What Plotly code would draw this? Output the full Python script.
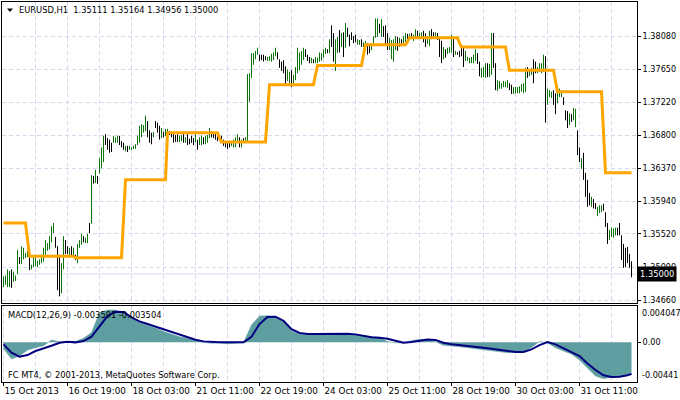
import plotly.graph_objects as go

# ---------------- data (EURUSD H1) ----------------
opens = [
1.3486,1.3488,1.3487,1.3488,1.3502,1.3492,1.3492,1.3501,1.3520,1.3515,
1.3522,1.3522,1.3523,1.3523,1.3507,1.3510,1.3512,1.3510,1.3513,1.3516,
1.3518,1.3527,1.3532,1.3535,1.3544,1.3555,1.3546,1.3534,1.3500,1.3478,
1.3508,1.3542,1.3534,1.3526,1.3533,1.3525,1.3524,1.3518,1.3535,1.3540,
1.3548,1.3542,1.3543,1.3563,1.3567,1.3625,1.3620,1.3626,1.3632,1.3640,
1.3650,1.3677,1.3670,1.3665,1.3668,1.3671,1.3671,1.3672,1.3677,1.3670,
1.3667,1.3661,1.3665,1.3661,1.3662,1.3663,1.3664,1.3668,1.3674,1.3680,
1.3685,1.3688,1.3696,1.3682,1.3674,1.3678,1.3696,1.3692,1.3686,1.3677,
1.3683,1.3680,1.3682,1.3685,1.3682,1.3680,1.3678,1.3678,1.3673,1.3674,
1.3680,1.3671,1.3678,1.3673,1.3676,1.3674,1.3672,1.3672,1.3668,1.3669,
1.3676,1.3670,1.3672,1.3678,1.3684,1.3680,1.3678,1.3677,1.3677,1.3676,
1.3672,1.3668,1.3667,1.3669,1.3666,1.3666,1.3667,1.3672,1.3676,1.3665,
1.3674,1.3671,1.3674,1.3735,1.3757,1.3774,1.3780,1.3785,1.3783,1.3782,
1.3782,1.3781,1.3777,1.3777,1.3777,1.3779,1.3784,1.3786,1.3777,1.3772,
1.3770,1.3764,1.3752,1.3748,1.3760,1.3747,1.3753,1.3764,1.3767,1.3774,
1.3780,1.3790,1.3783,1.3779,1.3774,1.3778,1.3774,1.3775,1.3777,1.3778,
1.3782,1.3786,1.3790,1.3788,1.3805,1.3800,1.3770,1.3790,1.3808,1.3796,
1.3810,1.3796,1.3818,1.3808,1.3811,1.3806,1.3805,1.3798,1.3798,1.3802,
1.3795,1.3796,1.3798,1.3795,1.3791,1.3799,1.3807,1.3810,1.3822,1.3810,
1.3819,1.3815,1.3808,1.3792,1.3782,1.3779,1.3792,1.3805,1.3795,1.3803,
1.3800,1.3802,1.3810,1.3804,1.3811,1.3803,1.3808,1.3814,1.3808,1.3808,
1.3812,1.3804,1.3799,1.3798,1.3814,1.3811,1.3808,1.3811,1.3805,1.3785,
1.3779,1.3790,1.3786,1.3788,1.3790,1.3805,1.3785,1.3787,1.3787,1.3792,
1.3786,1.3777,1.3777,1.3774,1.3775,1.3775,1.3779,1.3784,1.3773,1.3756,
1.3757,1.3756,1.3770,1.3757,1.3762,1.3805,1.3768,1.3739,1.3741,1.3741,
1.3743,1.3743,1.3743,1.3746,1.3741,1.3734,1.3735,1.3736,1.3736,1.3738,
1.3737,1.3740,1.3766,1.3757,1.3759,1.3770,1.3773,1.3762,1.3763,1.3762,
1.3765,1.3779,1.3722,1.3731,1.3729,1.3736,1.3724,1.3723,1.3731,1.3731,
1.3727,1.3710,1.3702,1.3694,1.3705,1.3701,1.3695,1.3684,1.3660,1.3638,
1.3650,1.3626,1.3604,1.3600,1.3589,1.3596,1.3590,1.3577,1.3581,1.3582,
1.3589,1.3578,1.3562,1.3545,1.3550,1.3549,1.3552,1.3558,1.3562,1.3548,
1.3525,1.3530,1.3530,1.3518,1.35111]
highs = [
1.3497,1.3498,1.3506,1.3504,1.3506,1.3503,1.3498,1.3531,1.3522,1.3536,
1.3534,1.3527,1.3530,1.3525,1.3512,1.3522,1.3522,1.3517,1.3519,1.3525,
1.3534,1.3544,1.3540,1.3549,1.3562,1.3566,1.3548,1.3536,1.3525,1.3514,
1.3549,1.3544,1.3536,1.3534,1.3536,1.3534,1.3525,1.3539,1.3544,1.3552,
1.3549,1.3547,1.3552,1.3566,1.3628,1.3627,1.3635,1.3627,1.3650,1.3664,
1.3679,1.3681,1.3676,1.3674,1.3670,1.3679,1.3677,1.3679,1.3679,1.3672,
1.3670,1.3666,1.3666,1.3666,1.3664,1.3666,1.3668,1.3679,1.3692,1.3694,
1.3693,1.3705,1.3698,1.3686,1.3683,1.3684,1.3698,1.3696,1.3692,1.3689,
1.3684,1.3688,1.3688,1.3685,1.3683,1.3683,1.3680,1.3681,1.3679,1.3680,
1.3683,1.3677,1.3683,1.3675,1.3679,1.3676,1.3685,1.3674,1.3677,1.3679,
1.3677,1.3679,1.3680,1.3689,1.3685,1.3683,1.3683,1.3681,1.3680,1.3679,
1.3674,1.3671,1.3670,1.3671,1.3671,1.3674,1.3677,1.3681,1.3677,1.3674,
1.3676,1.3677,1.3759,1.3760,1.3786,1.3786,1.3789,1.3793,1.3784,1.3784,
1.3784,1.3782,1.3781,1.3782,1.3785,1.3787,1.3793,1.3787,1.3778,1.3775,
1.3777,1.3769,1.3765,1.3762,1.3764,1.3758,1.3768,1.3793,1.3787,1.3789,
1.3793,1.3791,1.3784,1.3781,1.3780,1.3778,1.3781,1.3780,1.3787,1.3786,
1.3791,1.3793,1.3791,1.3804,1.3822,1.3812,1.3804,1.3807,1.3816,1.3812,
1.3813,1.3825,1.3819,1.3810,1.3813,1.3808,1.3810,1.3804,1.3803,1.3804,
1.3800,1.3802,1.3799,1.3797,1.3799,1.3808,1.3831,1.3831,1.3824,1.3830,
1.3821,1.3822,1.3812,1.3806,1.3803,1.3804,1.3808,1.3807,1.3806,1.3804,
1.3808,1.3812,1.3811,1.3811,1.3812,1.3810,1.3817,1.3815,1.3812,1.3813,
1.3815,1.3812,1.3808,1.3815,1.3817,1.3813,1.3813,1.3812,1.3807,1.3802,
1.3794,1.3791,1.3793,1.3794,1.3810,1.3807,1.3789,1.3787,1.3789,1.3794,
1.3794,1.3789,1.3781,1.3780,1.3781,1.3784,1.3791,1.3786,1.3775,1.3767,
1.3768,1.3773,1.3773,1.3772,1.3812,1.3812,1.3773,1.3751,1.3750,1.3747,
1.3750,1.3749,1.3751,1.3747,1.3745,1.3742,1.3742,1.3742,1.3743,1.3746,
1.3747,1.3767,1.3768,1.3765,1.3767,1.3778,1.3775,1.3768,1.3773,1.3773,
1.3784,1.3782,1.3740,1.3738,1.3736,1.3738,1.3734,1.3736,1.3740,1.3738,
1.3729,1.3712,1.3711,1.3708,1.3707,1.3715,1.3714,1.3686,1.3664,1.3650,
1.3657,1.3631,1.3622,1.3605,1.3600,1.3597,1.3592,1.3587,1.3589,1.3589,
1.3591,1.3580,1.3566,1.3557,1.3560,1.3559,1.3560,1.3560,1.3566,1.3550,
1.3539,1.3534,1.3535,1.3526,1.35164]
lows = [
1.3483,1.3486,1.3483,1.3483,1.3482,1.3490,1.3491,1.3500,1.3513,1.3513,
1.3519,1.3521,1.3522,1.3505,1.3506,1.3509,1.3510,1.3509,1.3512,1.3514,
1.3516,1.3525,1.3530,1.3532,1.3541,1.3553,1.3534,1.3479,1.3471,1.3475,
1.3506,1.3526,1.3526,1.3523,1.3522,1.3523,1.3518,1.3514,1.3534,1.3538,
1.3541,1.3540,1.3540,1.3553,1.3565,1.3617,1.3618,1.3617,1.3630,1.3637,
1.3645,1.3667,1.3661,1.3657,1.3658,1.3670,1.3670,1.3670,1.3667,1.3664,
1.3661,1.3659,1.3658,1.3661,1.3661,1.3662,1.3662,1.3667,1.3670,1.3677,
1.3683,1.3685,1.3677,1.3670,1.3668,1.3677,1.3689,1.3683,1.3674,1.3676,
1.3677,1.3679,1.3680,1.3680,1.3677,1.3670,1.3671,1.3671,1.3671,1.3672,
1.3670,1.3670,1.3667,1.3668,1.3670,1.3667,1.3671,1.3661,1.3667,1.3667,
1.3668,1.3668,1.3670,1.3676,1.3677,1.3676,1.3674,1.3672,1.3674,1.3670,
1.3666,1.3664,1.3662,1.3664,1.3666,1.3664,1.3664,1.3670,1.3664,1.3664,
1.3670,1.3670,1.3671,1.3723,1.3754,1.3771,1.3778,1.3784,1.3776,1.3777,
1.3775,1.3777,1.3776,1.3776,1.3775,1.3777,1.3782,1.3778,1.3767,1.3763,
1.3760,1.3746,1.3750,1.3745,1.3742,1.3746,1.3751,1.3760,1.3764,1.3771,
1.3777,1.3781,1.3776,1.3773,1.3773,1.3773,1.3773,1.3773,1.3775,1.3776,
1.3780,1.3785,1.3786,1.3786,1.3794,1.3775,1.3763,1.3786,1.3787,1.3794,
1.3781,1.3793,1.3807,1.3795,1.3803,1.3799,1.3800,1.3797,1.3797,1.3794,
1.3794,1.3794,1.3784,1.3786,1.3790,1.3798,1.3806,1.3807,1.3812,1.3807,
1.3807,1.3797,1.3790,1.3790,1.3778,1.3775,1.3790,1.3789,1.3794,1.3795,
1.3799,1.3800,1.3804,1.3803,1.3807,1.3802,1.3807,1.3807,1.3807,1.3807,
1.3800,1.3794,1.3798,1.3795,1.3804,1.3807,1.3807,1.3803,1.3781,1.3773,
1.3778,1.3780,1.3785,1.3786,1.3787,1.3781,1.3784,1.3784,1.3781,1.3782,
1.3768,1.3776,1.3776,1.3773,1.3773,1.3773,1.3776,1.3772,1.3756,1.3754,
1.3755,1.3754,1.3755,1.3755,1.3758,1.3767,1.3738,1.3737,1.3740,1.3740,
1.3742,1.3742,1.3741,1.3738,1.3733,1.3733,1.3734,1.3734,1.3734,1.3736,
1.3734,1.3736,1.3754,1.3756,1.3758,1.3747,1.3760,1.3760,1.3762,1.3760,
1.3762,1.3696,1.3719,1.3729,1.3728,1.3719,1.3707,1.3721,1.3729,1.3729,
1.3719,1.3699,1.3689,1.3693,1.3697,1.3699,1.3690,1.3654,1.3645,1.3636,
1.3622,1.3600,1.3587,1.3589,1.3587,1.3585,1.3584,1.3575,1.3579,1.3580,
1.3582,1.3561,1.3539,1.3544,1.3548,1.3547,1.3550,1.3550,1.3550,1.3518,
1.3508,1.3509,1.3514,1.3508,1.34956]
closes = [
1.3494,1.3495,1.3502,1.3500,1.3486,1.3500,1.3497,1.3525,1.3515,1.3532,
1.3531,1.3526,1.3528,1.3508,1.3511,1.3519,1.3520,1.3516,1.3518,1.3523,
1.3530,1.3540,1.3538,1.3546,1.3558,1.3563,1.3536,1.3490,1.3475,1.3508,
1.3545,1.3530,1.3528,1.3532,1.3524,1.3532,1.3520,1.3536,1.3542,1.3550,
1.3543,1.3546,1.3550,1.3556,1.3622,1.3619,1.3632,1.3618,1.3647,1.3660,
1.3675,1.3669,1.3663,1.3659,1.3660,1.3677,1.3676,1.3677,1.3669,1.3666,
1.3662,1.3665,1.3660,1.3665,1.3664,1.3665,1.3667,1.3677,1.3689,1.3691,
1.3691,1.3702,1.3680,1.3672,1.3670,1.3683,1.3691,1.3685,1.3676,1.3687,
1.3678,1.3686,1.3687,1.3681,1.3678,1.3672,1.3673,1.3673,1.3677,1.3679,
1.3672,1.3676,1.3669,1.3669,1.3671,1.3668,1.3683,1.3663,1.3675,1.3677,
1.3670,1.3677,1.3678,1.3687,1.3679,1.3677,1.3675,1.3674,1.3675,1.3671,
1.3667,1.3665,1.3663,1.3665,1.3670,1.3672,1.3675,1.3679,1.3666,1.3672,
1.3671,1.3676,1.3748,1.3757,1.3782,1.3784,1.3787,1.3791,1.3778,1.3779,
1.3777,1.3778,1.3780,1.3781,1.3783,1.3785,1.3791,1.3780,1.3769,1.3765,
1.3762,1.3749,1.3762,1.3758,1.3745,1.3756,1.3765,1.3788,1.3784,1.3787,
1.3790,1.3783,1.3777,1.3775,1.3779,1.3774,1.3780,1.3779,1.3785,1.3784,
1.3789,1.3791,1.3787,1.3801,1.3797,1.3778,1.3800,1.3804,1.3790,1.3809,
1.3785,1.3820,1.3809,1.3797,1.3805,1.3801,1.3802,1.3803,1.3802,1.3796,
1.3799,1.3800,1.3786,1.3788,1.3797,1.3806,1.3827,1.3828,1.3814,1.3826,
1.3809,1.3799,1.3793,1.3803,1.3800,1.3801,1.3805,1.3791,1.3804,1.3797,
1.3806,1.3810,1.3805,1.3810,1.3808,1.3809,1.3815,1.3808,1.3811,1.3812,
1.3802,1.3796,1.3806,1.3812,1.3806,1.3808,1.3812,1.3805,1.3784,1.3776,
1.3791,1.3782,1.3791,1.3793,1.3806,1.3784,1.3788,1.3785,1.3783,1.3784,
1.3771,1.3787,1.3780,1.3779,1.3780,1.3782,1.3789,1.3774,1.3759,1.3765,
1.3766,1.3770,1.3757,1.3769,1.3805,1.3770,1.3741,1.3749,1.3748,1.3746,
1.3749,1.3748,1.3750,1.3740,1.3735,1.3740,1.3741,1.3741,1.3742,1.3744,
1.3745,1.3763,1.3756,1.3764,1.3765,1.3752,1.3762,1.3767,1.3771,1.3771,
1.3780,1.3712,1.3736,1.3737,1.3735,1.3722,1.3710,1.3734,1.3738,1.3737,
1.3721,1.3701,1.3692,1.3705,1.3699,1.3712,1.3712,1.3657,1.3647,1.3648,
1.3625,1.3603,1.3590,1.3591,1.3598,1.3587,1.3585,1.3585,1.3588,1.3588,
1.3584,1.3563,1.3542,1.3555,1.3558,1.3557,1.3559,1.3552,1.3552,1.3521,
1.3510,1.3512,1.3517,1.3510,1.35000]

# orange step indicator: bar where each level starts, and the level
orange_start = [0, 12, 13, 36, 60, 61, 82, 108, 109, 132, 133, 156, 157,
                180, 181, 202, 203, 228, 229, 252, 253, 276, 277, 300, 301]
orange_level = [1.3566, 1.3545, 1.3523, 1.3521, 1.3571, 1.3622, 1.3683, 1.3676,
                1.3671, 1.3708, 1.3745, 1.3758, 1.3770, 1.3784, 1.3797, 1.3801,
                1.3806, 1.3799, 1.3794, 1.3778, 1.3764, 1.3750, 1.3736, 1.3683,
                1.3631]

# MACD(12,26,9) read every 4th bar
macd_bar = list(range(0, 313, 4)) + [314]
macd_hist = [
-0.00067,-0.00186,-0.00152,-0.00085,-0.00059,-0.00037,0.00026,0.00007,0.00004,0.00011,
0.00045,0.00111,0.00330,0.00360,0.00360,0.00323,0.00267,0.00223,0.00189,0.00160,
0.00122,0.00089,0.00063,0.00045,0.00022,0.00000,-0.00011,-0.00007,-0.00015,-0.00011,
-0.00004,0.00193,0.00293,0.00297,0.00286,0.00237,0.00126,0.00089,0.00082,0.00082,
0.00082,0.00085,0.00089,0.00093,0.00085,0.00078,0.00063,0.00052,0.00011,-0.00004,
-0.00007,0.00019,0.00033,0.00033,0.00007,-0.00033,-0.00037,-0.00048,-0.00059,-0.00070,
-0.00082,-0.00093,-0.00104,-0.00115,-0.00111,-0.00104,-0.00056,0.00011,-0.00004,-0.00059,
-0.00096,-0.00130,-0.00197,-0.00289,-0.00375,-0.00404,-0.00393,-0.00375,-0.00360,-0.003591]
macd_signal = [
-0.00022,-0.00115,-0.00160,-0.00141,-0.00096,-0.00070,-0.00037,-0.00004,0.00007,0.00000,
0.00015,0.00063,0.00182,0.00293,0.00341,0.00338,0.00278,0.00234,0.00204,0.00174,
0.00141,0.00111,0.00082,0.00056,0.00030,0.00011,0.00004,0.00000,0.00000,-0.00004,
0.00000,0.00063,0.00204,0.00282,0.00286,0.00241,0.00148,0.00104,0.00093,0.00093,
0.00093,0.00093,0.00100,0.00096,0.00089,0.00070,0.00056,0.00052,0.00041,0.00019,
-0.00004,0.00004,0.00022,0.00033,0.00026,-0.00004,-0.00022,-0.00030,-0.00041,-0.00048,
-0.00059,-0.00070,-0.00085,-0.00100,-0.00108,-0.00108,-0.00078,-0.00030,0.00004,-0.00022,
-0.00063,-0.00108,-0.00152,-0.00234,-0.00308,-0.00367,-0.00386,-0.00382,-0.00367,-0.003504]

date_bar = [0, 32, 64, 96, 128, 160, 192, 224, 256, 288]
date_text = ["15 Oct 2013", "16 Oct 19:00", "18 Oct 03:00", "21 Oct 11:00",
             "22 Oct 19:00", "24 Oct 03:00", "25 Oct 11:00", "28 Oct 19:00",
             "30 Oct 03:00", "31 Oct 11:00"]
grid_bar = list(range(16, 315, 16))
price_ticks = [1.38080, 1.37650, 1.37220, 1.36800, 1.36370, 1.35940, 1.35520, 1.35090, 1.34660]
price_labels = ["1.38080", "1.37650", "1.37220", "1.36800", "1.36370",
                "1.35940", "1.35520", "1.35090", "1.34660"]
last_price = 1.35000
macd_max, macd_min = 0.004047, -0.00441

assert len(opens) == len(highs) == len(lows) == len(closes) == 315, (len(opens), len(highs), len(lows), len(closes))
assert len(macd_bar) == len(macd_hist) == len(macd_signal), (len(macd_bar), len(macd_hist), len(macd_signal))

# ---------------- styling ----------------
W, H = 680, 400
ML, MR, MT, MB = 2, 43, 2, 18
PW, PH = W - ML - MR, H - MT - MB
FONT = "DejaVu Sans"
UP, DN = "#0A760A", "#000000"
GRID = "#D6D6EE"

def px_x(px):
    return (px - ML) / PW

def px_y(py):
    return 1 - (py - MT) / PH

n = len(closes)
bars = list(range(n))
orange = []
for k, s in enumerate(orange_start):
    e = orange_start[k + 1] if k + 1 < len(orange_start) else n
    orange += [orange_level[k]] * (e - s)

fig = go.Figure()
fig.add_trace(go.Scatter(x=bars, y=orange, mode="lines",
                         line=dict(color="#FFA500", width=3),
                         xaxis="x", yaxis="y", hoverinfo="skip"))
fig.add_trace(go.Ohlc(x=bars, open=opens, high=highs, low=lows, close=closes,
                      increasing=dict(line=dict(color=UP, width=1)),
                      decreasing=dict(line=dict(color=DN, width=1)),
                      tickwidth=0.25, xaxis="x", yaxis="y", hoverinfo="skip"))
fig.add_trace(go.Scatter(x=macd_bar, y=macd_hist, mode="lines", fill="tozeroy",
                         fillcolor="#5F9EA0", line=dict(color="#5F9EA0", width=0.5),
                         xaxis="x2", yaxis="y2", hoverinfo="skip"))
fig.add_trace(go.Scatter(x=macd_bar, y=macd_signal, mode="lines",
                         line=dict(color="#000080", width=2),
                         xaxis="x2", yaxis="y2", hoverinfo="skip"))

xr = [-0.75, -0.75 + PW / 2.0]
main_bottom_py, macd_top_py = 303, 306
dom_main = [px_y(main_bottom_py), 1.0]
dom_macd = [0.0, px_y(macd_top_py)]
p_per_px = 0.0001295
y_top = 1.385483 - p_per_px * MT
y_bot = 1.385483 - p_per_px * main_bottom_py

yfont = dict(family=FONT, size=8.1, color="black")
dfont = dict(family=FONT, size=8.8, color="black")
fig.update_layout(
    width=W, height=H, margin=dict(l=ML, r=MR, t=MT, b=MB),
    paper_bgcolor="white", plot_bgcolor="white", showlegend=False,
    font=dict(family=FONT, size=8.5, color="black"),
    xaxis=dict(domain=[0, 1], anchor="y", range=xr, rangeslider=dict(visible=False),
               tickmode="array", tickvals=grid_bar, showticklabels=False, ticks="",
               showgrid=True, gridcolor=GRID, griddash="4px,3px", gridwidth=1,
               zeroline=False, showline=True, mirror=True, linecolor="black", linewidth=1),
    yaxis=dict(domain=dom_main, anchor="x", side="right", range=[y_bot, y_top],
               tickmode="array", tickvals=price_ticks, ticktext=price_labels,
               ticks="outside", ticklen=3, tickcolor="black", tickfont=yfont,
               showgrid=True, gridcolor=GRID, griddash="4px,3px", gridwidth=1,
               zeroline=False, showline=True, mirror=True, linecolor="black", linewidth=1),
    xaxis2=dict(domain=[0, 1], anchor="y2", range=xr, matches="x",
                tickmode="array", tickvals=date_bar, ticktext=date_text,
                ticks="outside", ticklen=3, tickcolor="black", tickfont=dfont,
                ticklabelposition="outside right", tickangle=0,
                showgrid=True, gridcolor=GRID, griddash="4px,3px", gridwidth=1,
                minor=dict(tickvals=grid_bar, showgrid=True, gridcolor=GRID,
                           griddash="4px,3px", ticks=""),
                zeroline=False, showline=True, mirror=True, linecolor="black", linewidth=1),
    yaxis2=dict(domain=dom_macd, anchor="x2", side="right", range=[macd_min, macd_max],
                tickmode="array", tickvals=[0], ticktext=["0.00"],
                ticks="outside", ticklen=3, tickcolor="black", tickfont=yfont,
                showgrid=False, zeroline=False, showline=True, mirror=True,
                linecolor="black", linewidth=1),
)

# current price line
fig.add_shape(type="line", xref="paper", yref="y", x0=0, x1=1, y0=last_price, y1=last_price,
              line=dict(color="#DCDCF2", width=1), layer="below")
# small menu triangle
tx0, tx1, ty0, ty1 = px_x(7), px_x(13), px_y(8.5), px_y(12)
fig.add_shape(type="path", xref="paper", yref="paper",
              path=f"M {tx0},{ty0} L {tx1},{ty0} L {(tx0 + tx1) / 2},{ty1} Z",
              fillcolor="black", line=dict(color="black", width=0))

ann = [
    dict(x=px_x(17), y=px_y(10), text="EURUSD,H1\u00a0\u00a01.35111 1.35164 1.34956 1.35000",
         xanchor="left", yanchor="middle"),
    dict(x=px_x(6), y=px_y(315), text="MACD(12,26,9) -0.003591 -0.003504",
         xanchor="left", yanchor="middle"),
    dict(x=px_x(6), y=px_y(375), text="FC MT4, \u00a9 2001-2013, MetaQuotes Software Corp.",
         xanchor="left", yanchor="middle"),
]
for a in ann:
    fig.add_annotation(xref="paper", yref="paper", showarrow=False,
                       font=dict(family=FONT, size=8.3, color="black"), **a)

fig.add_annotation(xref="paper", yref="y2", x=1, y=macd_max, xshift=3, text="0.004047",
                   xanchor="left", yanchor="top", showarrow=False, font=yfont)
fig.add_annotation(xref="paper", yref="y2", x=1, y=macd_min, xshift=3, text="-0.00441",
                   xanchor="left", yanchor="bottom", showarrow=False, font=yfont)
fig.add_annotation(xref="paper", yref="y", x=1, y=last_price, xshift=0, text="1.35000",
                   xanchor="left", yanchor="middle", showarrow=False, bgcolor="black",
                   borderpad=2, font=dict(family=FONT, size=8.3, color="white"))

fig.write_html("out.html", config={"displayModeBar": False},
               post_script="document.body.style.margin='0px';document.body.style.overflow='hidden';")
